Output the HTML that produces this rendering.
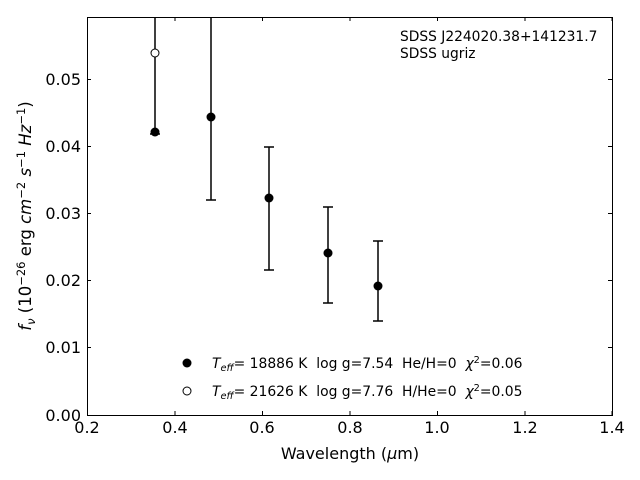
<!DOCTYPE html>
<html><head><style>body{margin:0;background:#fff}svg{display:block;font-family:"DejaVu Sans",sans-serif}text{white-space:pre}</style></head><body>
<svg width="640" height="480" viewBox="0 0 640 480" xmlns="http://www.w3.org/2000/svg">
<rect width="640" height="480" fill="#fff"/>
<g stroke="#000" stroke-width="1" fill="none">
<rect x="87.5" y="17.5" width="525" height="398"/>
<path d="M87.5 415v-4M175 415v-4M262.5 415v-4M350 415v-4M437.5 415v-4M525 415v-4M612 415v-4M87.5 17v4M175 17v4M262.5 17v4M350 17v4M437.5 17v4M525 17v4M612 17v4"/>
<path d="M87 415.5h4M87 347.5h4M87 280.5h4M87 213.5h4M87 146.5h4M87 79.5h4M612 347.5h-4M612 280.5h-4M612 213.5h-4M612 146.5h-4M612 79.5h-4"/>
</g>
<g stroke="#000" stroke-width="1.5" fill="none">
<path d="M155 17V134M150 134h10"/>
<path d="M211 17V200M206 200h10"/>
<path d="M269 147V270M264 147h10M264 270h10"/>
<path d="M328 207V303M323 207h10M323 303h10"/>
<path d="M378 241V321M373 241h10M373 321h10"/>
</g>
<g fill="#000">
<circle cx="155" cy="132" r="4.5"/><circle cx="211" cy="117" r="4.5"/><circle cx="269" cy="198" r="4.5"/><circle cx="328" cy="253" r="4.5"/><circle cx="378" cy="286" r="4.5"/>
<circle cx="187" cy="363" r="4.5"/>
</g>
<circle cx="155" cy="53" r="4" fill="#fff" stroke="#000" stroke-width="1"/>
<circle cx="187" cy="391" r="4" fill="#fff" stroke="#000" stroke-width="1"/>
<g font-size="16" fill="#000" text-anchor="middle">
<text x="87" y="433">0.2</text><text x="175" y="433">0.4</text><text x="262" y="433">0.6</text><text x="350" y="433">0.8</text><text x="437" y="433">1.0</text><text x="525" y="433">1.2</text><text x="612" y="433">1.4</text>
</g>
<g font-size="16" fill="#000" text-anchor="end">
<text x="81" y="421">0.00</text><text x="81" y="353">0.01</text><text x="81" y="286">0.02</text><text x="81" y="219">0.03</text><text x="81" y="152">0.04</text><text x="81" y="85">0.05</text>
</g>
<text x="350" y="459" font-size="16" text-anchor="middle">Wavelength (<tspan font-style="italic">μ</tspan>m)</text>
<text transform="translate(31,216) rotate(-90)" font-size="16.5" text-anchor="middle"><tspan font-style="italic">f</tspan><tspan font-style="italic" font-size="11.5" dy="4">ν</tspan><tspan dy="-4"> (10</tspan><tspan font-size="11.5" dy="-6">−26</tspan><tspan dy="6"> erg </tspan><tspan font-style="italic">cm</tspan><tspan font-size="11.5" dy="-6">−2</tspan><tspan dy="6"> </tspan><tspan font-style="italic">s</tspan><tspan font-size="11.5" dy="-6">−1</tspan><tspan dy="6"> </tspan><tspan font-style="italic">Hz</tspan><tspan font-size="11.5" dy="-6">−1</tspan><tspan dy="6">)</tspan></text>
<text x="400" y="41" font-size="13.8">SDSS J224020.38+141231.7</text>
<text x="400" y="58" font-size="13.8">SDSS ugriz</text>
<text x="212" y="368" font-size="13.9"><tspan font-style="italic">T</tspan><tspan font-style="italic" font-size="9.8" dy="3">eff</tspan><tspan dy="-3">= 18886 K  log g=7.54  He/H=0  </tspan><tspan font-style="italic">χ</tspan><tspan font-size="9.8" dy="-5">2</tspan><tspan dy="5">=0.06</tspan></text>
<text x="212" y="396" font-size="13.9"><tspan font-style="italic">T</tspan><tspan font-style="italic" font-size="9.8" dy="3">eff</tspan><tspan dy="-3">= 21626 K  log g=7.76  H/He=0  </tspan><tspan font-style="italic">χ</tspan><tspan font-size="9.8" dy="-5">2</tspan><tspan dy="5">=0.05</tspan></text>
</svg>
</body></html>
